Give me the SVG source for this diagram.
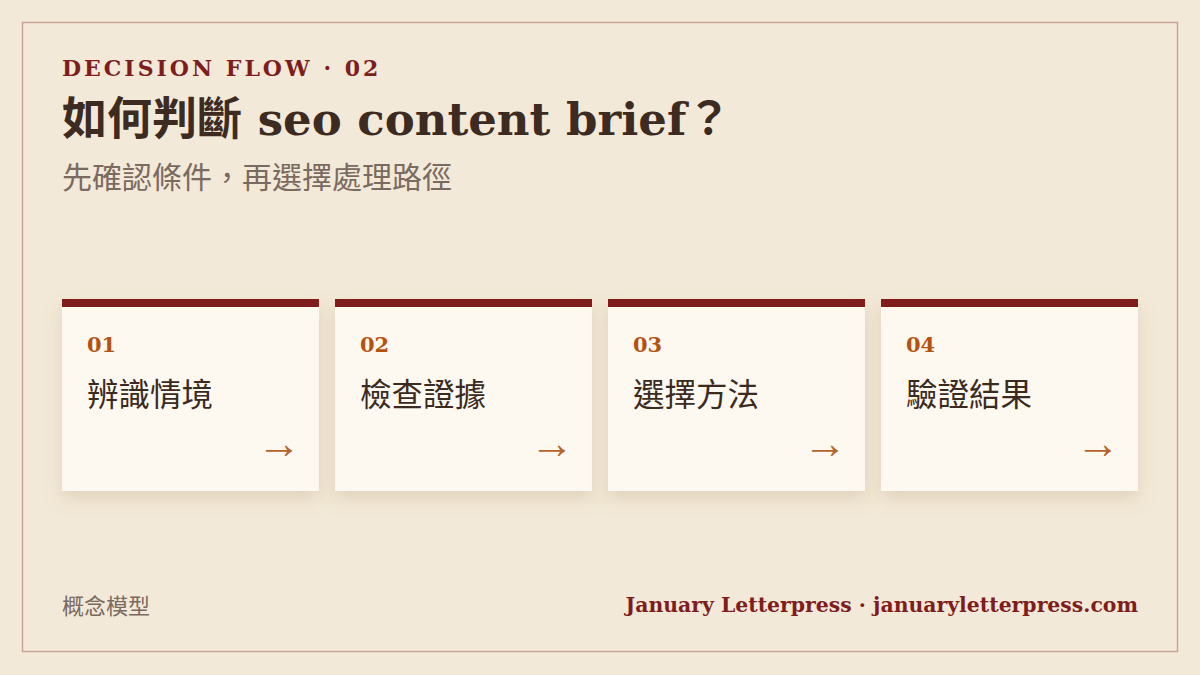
<svg xmlns="http://www.w3.org/2000/svg" width="1200" height="675" viewBox="0 0 1200 675">
<defs>
<filter id="sh" x="-20%" y="-20%" width="140%" height="150%">
<feDropShadow dx="0" dy="8" stdDeviation="9" flood-color="#8a6a3a" flood-opacity="0.18"/>
</filter>
<style>
.card{fill:#fdf8f0;filter:url(#sh)}
.bar{fill:#7f1d1d}
.num{font-family:"DejaVu Serif","Liberation Serif",serif;font-weight:bold;font-size:21px;fill:#b5520f}
.lbl{font-family:"Liberation Serif","Noto Sans CJK TC",serif;font-size:31.5px;fill:#3a2a20}
.arr{font-family:"Liberation Serif","DejaVu Serif",serif;font-size:44px;fill:#b5652a}
</style>
</defs>
<rect width="1200" height="675" fill="#f3e9d8"/>
<rect x="22.5" y="22.5" width="1155" height="629" fill="none" stroke="#c9a396" stroke-width="1.5"/>
<text x="62" y="76" font-family="DejaVu Serif, Liberation Serif, serif" font-weight="bold" font-size="22" letter-spacing="3" fill="#7f1d1d">DECISION FLOW · 02</text>
<text x="62" y="135" font-family="DejaVu Serif, Noto Sans CJK TC, serif" font-weight="bold" font-size="45" fill="#3d2b22">如何判斷 seo content brief？</text>
<text x="62" y="188" font-family="Liberation Serif, Noto Sans CJK TC, serif" font-size="30" fill="#7a6a60">先確認條件，再選擇處理路徑</text>
<g id="connectors"></g>
<g id="node1">
<rect class="card" x="62" y="299" width="257" height="192"/>
<rect class="bar" x="62" y="299" width="257" height="8"/>
<text class="num" x="87" y="352">01</text>
<text class="lbl" x="87" y="406">辨識情境</text>
<text class="arr" x="301" y="458" text-anchor="end">→</text>
</g>
<g id="node2">
<rect class="card" x="335" y="299" width="257" height="192"/>
<rect class="bar" x="335" y="299" width="257" height="8"/>
<text class="num" x="360" y="352">02</text>
<text class="lbl" x="360" y="406">檢查證據</text>
<text class="arr" x="574" y="458" text-anchor="end">→</text>
</g>
<g id="node3">
<rect class="card" x="608" y="299" width="257" height="192"/>
<rect class="bar" x="608" y="299" width="257" height="8"/>
<text class="num" x="633" y="352">03</text>
<text class="lbl" x="633" y="406">選擇方法</text>
<text class="arr" x="847" y="458" text-anchor="end">→</text>
</g>
<g id="node4">
<rect class="card" x="881" y="299" width="257" height="192"/>
<rect class="bar" x="881" y="299" width="257" height="8"/>
<text class="num" x="906" y="352">04</text>
<text class="lbl" x="906" y="406">驗證結果</text>
<text class="arr" x="1120" y="458" text-anchor="end">→</text>
</g>
<text x="62" y="614" font-family="Liberation Serif, Noto Sans CJK TC, serif" font-size="22" fill="#7a6a60">概念模型</text>
<text x="1138" y="612" text-anchor="end" font-family="DejaVu Serif, Liberation Serif, serif" font-weight="bold" font-size="20.4" fill="#7f1d1d">January Letterpress · januaryletterpress.com</text>
</svg>
